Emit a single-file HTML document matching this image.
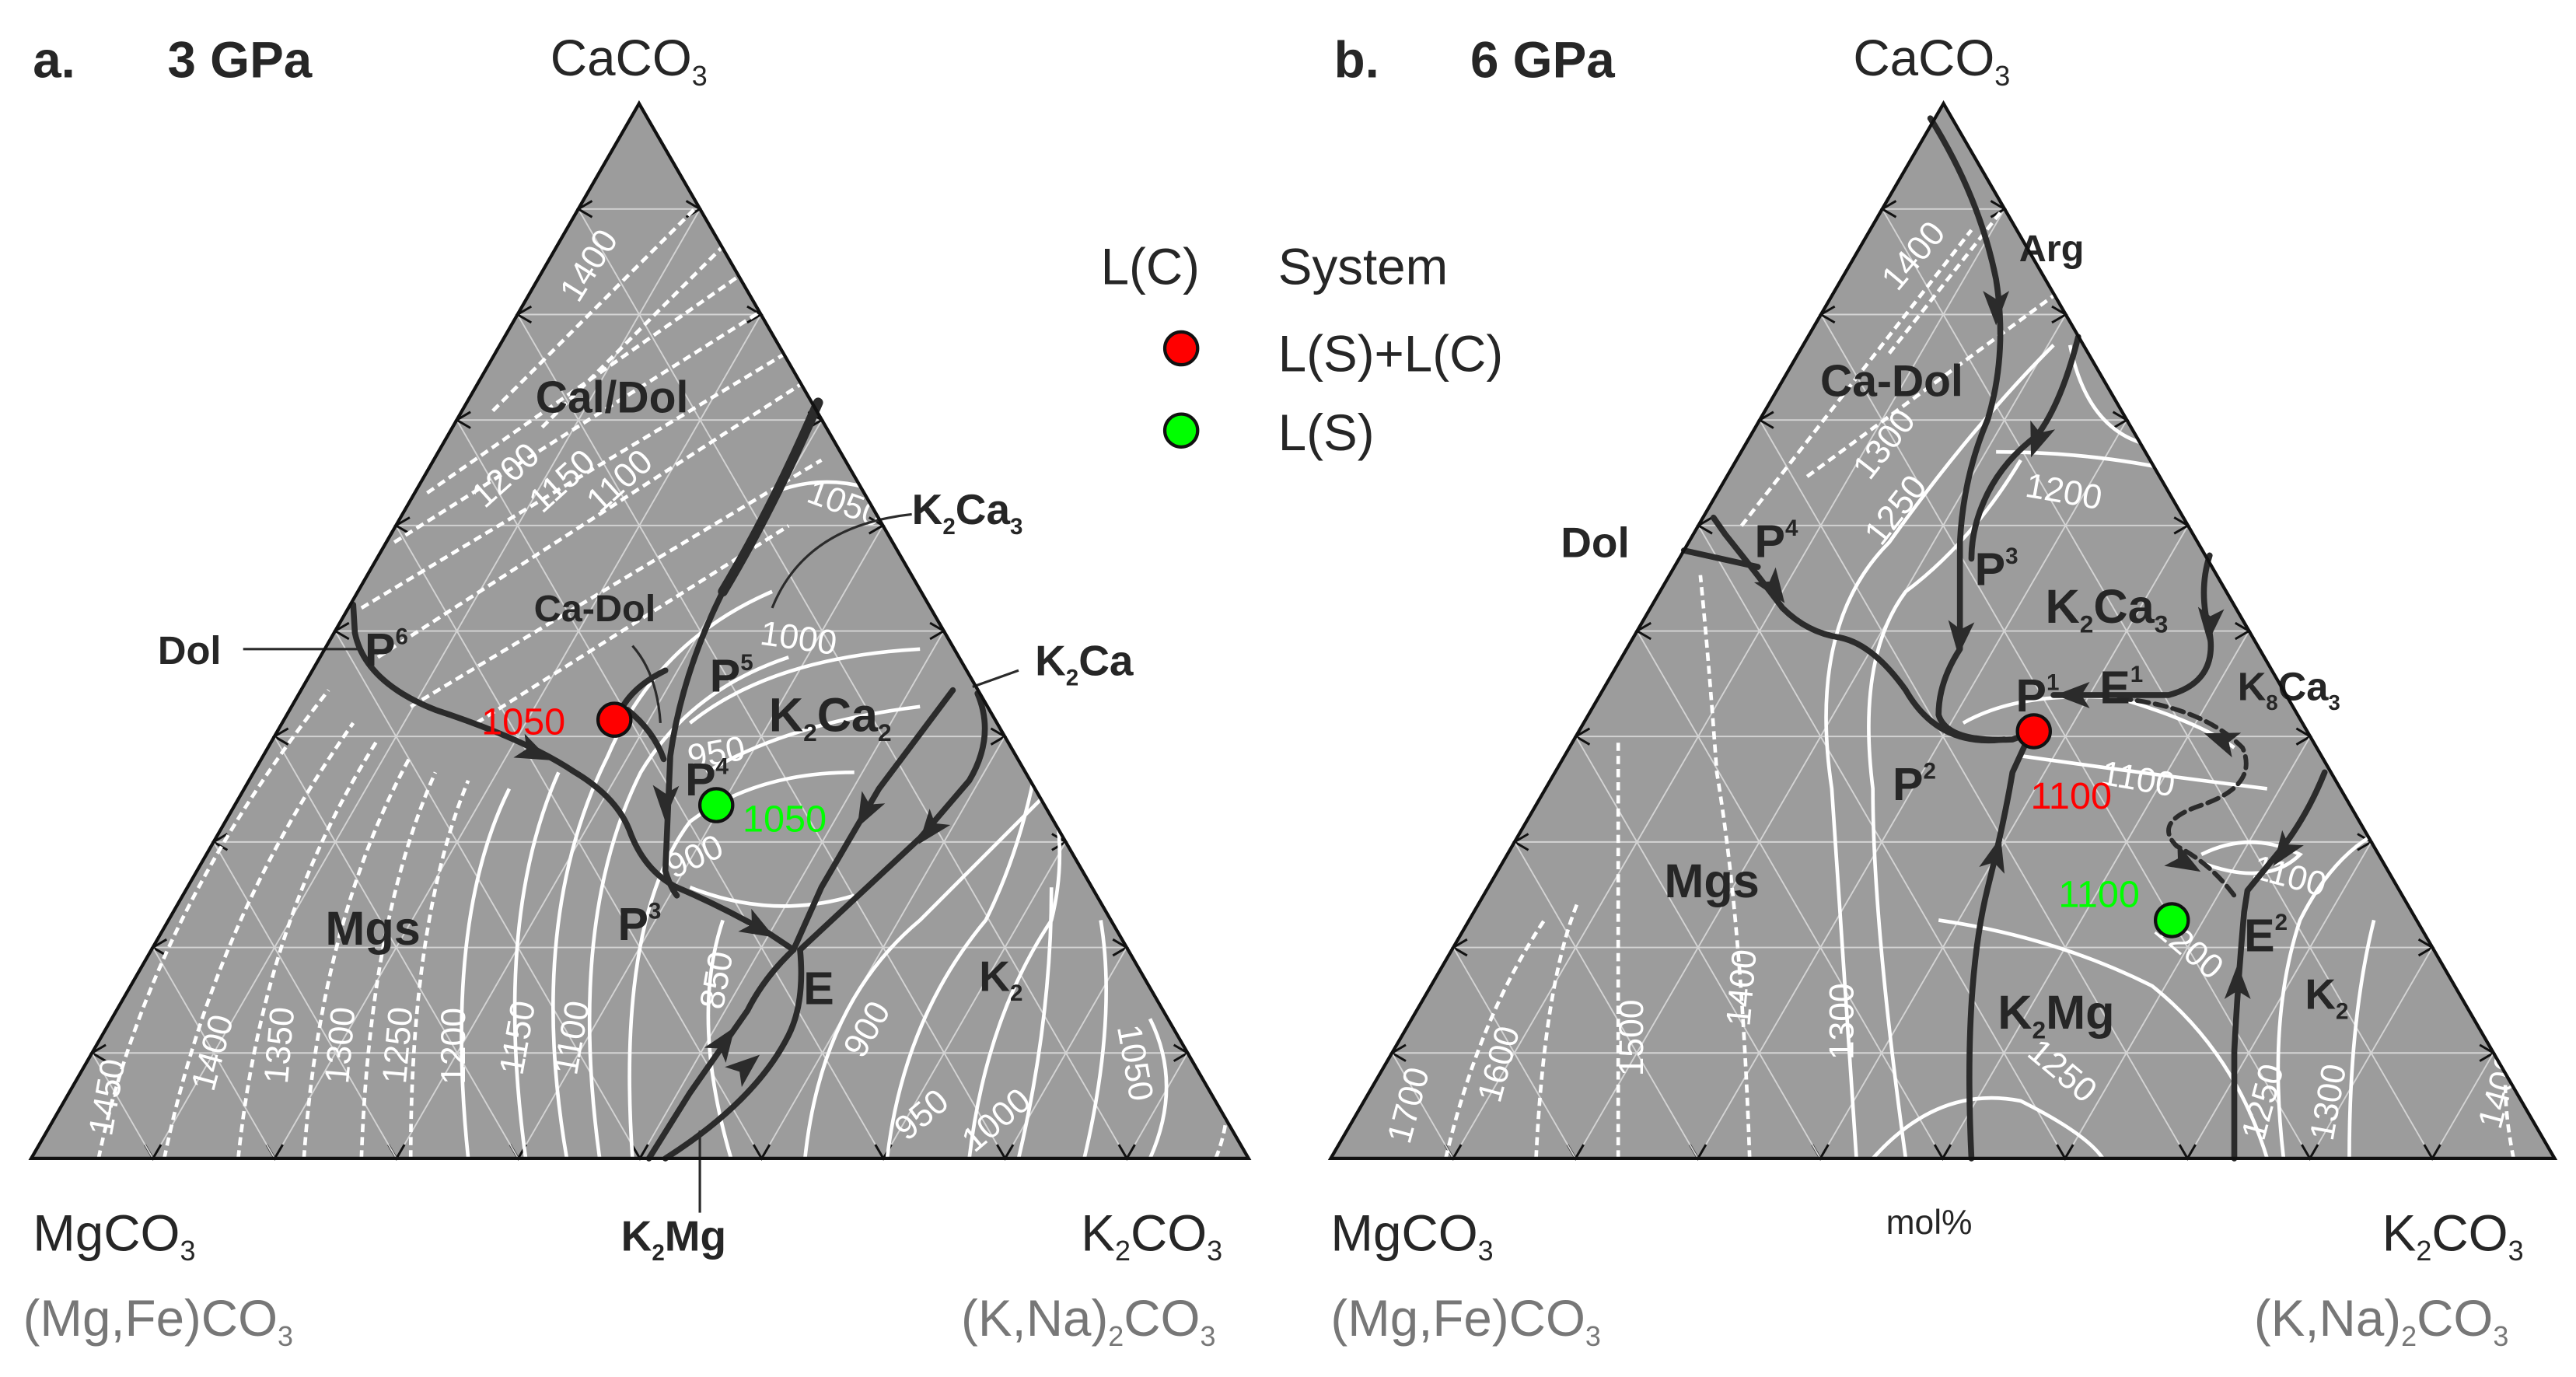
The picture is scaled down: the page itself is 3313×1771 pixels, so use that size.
<!DOCTYPE html>
<html><head><meta charset="utf-8">
<style>
html,body{margin:0;padding:0;background:#fff;}
svg{display:block;}
text{font-family:"Liberation Sans",Arial,sans-serif;}
.lb{font-weight:bold;fill:#262626;}
.wt{fill:#fff;font-size:21px;}
.dk{fill:none;stroke:#2b2b2b;stroke-width:3.6;stroke-linejoin:round;stroke-linecap:round;}
.th{fill:none;stroke:#2b2b2b;stroke-width:1.5;}
.wc{fill:none;stroke:#fff;stroke-width:2.2;}
.wd{fill:none;stroke:#fff;stroke-width:2.2;stroke-dasharray:5,3;}
</style></head><body>
<svg id="s" width="3313" height="1771" viewBox="0 0 1568 838" preserveAspectRatio="none" xmlns="http://www.w3.org/2000/svg">
<defs>
<clipPath id="ca"><polygon points="389,63 19,705 760,705"/></clipPath>
<clipPath id="cb"><polygon points="1183,63 810,705 1555,705"/></clipPath>
<path id="ah" d="M11,0 L-10,-8 L-5,0 L-10,8 Z" fill="#2b2b2b"/>
</defs>

<polygon points="389,63 19,705 760,705" fill="#9c9c9c"/>
<polygon points="1183,63 810,705 1555,705" fill="#9c9c9c"/>
<g id="grid"></g>

<!-- panel a white contours -->
<g clip-path="url(#ca)">
<path class="wd" d="M300,250 L470,80"/><path class="wd" d="M330,260 L480,110"/>
<path class="wd" d="M260,300 L490,140"/><path class="wd" d="M240,330 L510,160"/>
<path class="wd" d="M220,370 L520,190"/><path class="wd" d="M230,400 L540,200"/>
<path class="wd" d="M250,430 L500,280"/><path class="wd" d="M290,440 L480,320"/>
<path class="wd" d="M60,705 Q90,560 200,420"/><path class="wd" d="M100,705 Q130,560 215,440"/>
<path class="wd" d="M145,705 Q160,560 230,450"/><path class="wd" d="M185,705 Q195,560 250,460"/>
<path class="wd" d="M220,705 Q225,560 265,470"/><path class="wd" d="M250,705 Q250,560 285,475"/>
<path class="wc" d="M285,705 Q270,560 310,480"/><path class="wc" d="M320,705 Q300,560 340,470"/>
<path class="wc" d="M345,705 Q320,560 370,460 Q400,390 470,360"/>
<path class="wc" d="M365,705 Q345,560 390,470 Q420,420 480,400"/>
<path class="wc" d="M385,705 Q375,560 420,500 Q460,470 520,470"/>
<path class="wc" d="M445,705 Q420,620 440,560"/>
<path class="wc" d="M420,540 Q470,560 520,545"/>
<path class="wc" d="M430,470 Q480,440 560,430"/>
<path class="wc" d="M420,440 Q470,400 560,395"/>
<path class="wc" d="M520,290 Q540,240 560,255"/>
<path class="wc" d="M470,300 Q520,280 570,320"/>
<path class="wc" d="M490,705 Q500,610 560,560 Q600,520 640,480"/>
<path class="wc" d="M540,705 Q550,620 600,560 Q620,520 630,470"/>
<path class="wc" d="M590,705 Q600,620 640,560 Q650,520 640,480"/>
<path class="wc" d="M620,705 Q640,620 640,540"/>
<path class="wc" d="M660,705 Q680,620 670,560"/>
<path class="wc" d="M700,705 Q720,660 700,620"/>
<path class="wd" d="M740,705 Q750,680 745,660"/>
</g>
<g class="wt">
<text transform="translate(352,185) rotate(-58)">1400</text>
<text transform="translate(295,310) rotate(-42)">1200</text>
<text transform="translate(330,313) rotate(-42)">1150</text>
<text transform="translate(365,313) rotate(-42)">1100</text>
<text transform="translate(490,305) rotate(20)">1050</text>
<text transform="translate(462,392) rotate(8)">1000</text>
<text transform="translate(420,468) rotate(-10)">950</text>
<text transform="translate(410,535) rotate(-25)">900</text>
<text transform="translate(440,615) rotate(-80)">850</text>
<text transform="translate(68,692) rotate(-80)">1450</text>
<text transform="translate(130,665) rotate(-75)">1400</text>
<text transform="translate(175,660) rotate(-85)">1350</text>
<text transform="translate(212,660) rotate(-85)">1300</text>
<text transform="translate(247,660) rotate(-85)">1250</text>
<text transform="translate(283,660) rotate(-90)">1200</text>
<text transform="translate(318,655) rotate(-80)">1150</text>
<text transform="translate(351,655) rotate(-80)">1100</text>
<text transform="translate(525,645) rotate(-60)">900</text>
<text transform="translate(552,695) rotate(-40)">950</text>
<text transform="translate(593,702) rotate(-40)">1000</text>
<text transform="translate(680,625) rotate(80)">1050</text>
<text transform="translate(733,625) rotate(80)">1100</text>
</g>

<!-- panel a dark lines -->
<g>
<path class="dk" d="M215,368 L216,385 Q222,415 265,432 Q320,450 350,470 Q375,485 383,505 Q392,530 412,540 Q440,552 468,568 L483,578"/>
<path class="dk" style="stroke-width:6" d="M498,245 Q470,310 440,360"/>
<path class="dk" d="M440,360 Q415,410 408,460 L405,530 Q408,540 412,545"/>
<path class="dk" d="M378,432 Q385,418 405,408"/>
<path class="dk" d="M382,432 Q398,445 404,462"/>
<path class="th" d="M385,393 Q400,410 402,440"/>
<path class="dk" d="M580,420 L535,480 L500,540 L483,578 Q465,595 455,615 L420,665 L395,705"/>
<path class="dk" d="M595,422 Q606,448 590,475 L560,510 L487,578"/>
<path class="dk" d="M487,578 Q490,610 480,630 Q460,670 405,705"/>
<path class="th" d="M555,313 Q490,320 470,370"/>
<path class="th" d="M620,408 L592,418"/>
<path class="th" d="M148,395 L218,395"/>
<path class="th" d="M426,688 L426,738"/>
<use href="#ah" transform="translate(325,458) rotate(25)"/>
<use href="#ah" transform="translate(405,488) rotate(92)"/>
<use href="#ah" transform="translate(462,565) rotate(30)"/>
<use href="#ah" transform="translate(527,494) rotate(118)"/>
<use href="#ah" transform="translate(566,505) rotate(128)"/>
<use href="#ah" transform="translate(441,634) rotate(-55)"/>
<use href="#ah" transform="translate(454,649) rotate(-40)"/>
</g>
<circle cx="374" cy="438" r="10" fill="#f00" stroke="#111" stroke-width="2"/>
<circle cx="436" cy="490" r="10" fill="#0f0" stroke="#111" stroke-width="2"/>
<g class="lb">
<text x="20" y="47" font-size="31">a.</text><text x="102" y="47" font-size="31">3 GPa</text>
<text x="326" y="251" font-size="27">Cal/Dol</text>
<text x="325" y="378" font-size="23">Ca-Dol</text>
<text x="96" y="404" font-size="24">Dol</text>
<text x="222" y="405" font-size="28">P<tspan font-size="14" dy="-13">6</tspan></text>
<text x="432" y="421" font-size="28">P<tspan font-size="14" dy="-13">5</tspan></text>
<text x="417" y="484" font-size="28">P<tspan font-size="14" dy="-13">4</tspan></text>
<text x="376" y="572" font-size="28">P<tspan font-size="14" dy="-13">3</tspan></text>
<text x="489" y="611" font-size="28">E</text>
<text x="198" y="575" font-size="29">Mgs</text>
<text x="468" y="445" font-size="29">K<tspan font-size="15" dy="6">2</tspan><tspan dy="-6">Ca</tspan><tspan font-size="15" dy="6">2</tspan></text>
<text x="555" y="319" font-size="26">K<tspan font-size="14" dy="6">2</tspan><tspan dy="-6">Ca</tspan><tspan font-size="14" dy="6">3</tspan></text>
<text x="630" y="411" font-size="26">K<tspan font-size="14" dy="6">2</tspan><tspan dy="-6">Ca</tspan></text>
<text x="596" y="603" font-size="26">K<tspan font-size="14" dy="6">2</tspan></text>
<text x="378" y="761" font-size="26">K<tspan font-size="14" dy="6">2</tspan><tspan dy="-6">Mg</tspan></text>
</g>
<text x="293" y="447" font-size="23" fill="#f00">1050</text>
<text x="452" y="506" font-size="23" fill="#0f0">1050</text>

<!-- legend -->
<g font-size="31" fill="#262626">
<text x="670" y="173">L(C)</text><text x="778" y="173">System</text>
<text x="778" y="226">L(S)+L(C)</text><text x="778" y="274">L(S)</text>
</g>
<circle cx="719" cy="212" r="10" fill="#f00" stroke="#111" stroke-width="2"/>
<circle cx="719" cy="262" r="10" fill="#0f0" stroke="#111" stroke-width="2"/>

<!-- panel b white contours -->
<g clip-path="url(#cb)">
<path class="wd" d="M1060,320 L1200,140"/><path class="wd" d="M1150,215 L1225,120"/>
<path class="wd" d="M1100,290 L1250,180"/>
<path class="wd" d="M880,705 Q900,620 940,560"/><path class="wd" d="M935,705 Q940,600 960,550"/>
<path class="wd" d="M985,705 L985,450"/><path class="wd" d="M1065,705 Q1060,560 1045,470 Q1040,400 1035,350"/>
<path class="wc" d="M1130,705 Q1120,560 1115,480 Q1100,380 1150,330 Q1200,260 1250,210"/>
<path class="wc" d="M1160,705 Q1140,560 1140,480 Q1130,400 1160,360 Q1200,330 1230,280"/>
<path class="wc" d="M1180,560 Q1250,570 1310,600 Q1360,640 1380,705"/>
<path class="wc" d="M1140,705 Q1180,660 1230,670 Q1270,690 1280,705"/>
<path class="wc" d="M1215,275 Q1280,275 1340,290"/>
<path class="wc" d="M1260,210 Q1270,260 1305,270"/>
<path class="wc" d="M1195,440 Q1230,420 1290,425 Q1340,440 1360,455"/>
<path class="wc" d="M1230,460 Q1300,470 1380,480"/>
<path class="wc" d="M1340,520 Q1370,505 1400,520 Q1380,540 1340,525"/>
<path class="wc" d="M1390,705 Q1380,620 1400,560 Q1420,520 1450,505"/>
<path class="wc" d="M1430,705 Q1430,620 1445,560"/>
<path class="wd" d="M1530,705 Q1525,680 1525,660"/>
</g>
<g class="wt">
<text transform="translate(1155,178) rotate(-50)">1400</text>
<text transform="translate(1138,293) rotate(-52)">1300</text>
<text transform="translate(1145,333) rotate(-52)">1250</text>
<text transform="translate(1232,302) rotate(10)">1200</text>
<text transform="translate(1278,477) rotate(10)">1100</text>
<text transform="translate(1370,534) rotate(15)">1100</text>
<text transform="translate(1310,567) rotate(40)">1200</text>
<text transform="translate(1233,642) rotate(40)">1250</text>
<text transform="translate(858,697) rotate(-75)">1700</text>
<text transform="translate(913,672) rotate(-75)">1600</text>
<text transform="translate(1000,655) rotate(-90)">1500</text>
<text transform="translate(1065,625) rotate(-85)">1400</text>
<text transform="translate(1128,645) rotate(-90)">1300</text>
<text transform="translate(1378,695) rotate(-75)">1250</text>
<text transform="translate(1420,695) rotate(-80)">1300</text>
<text transform="translate(1522,688) rotate(-75)">1400</text>
</g>
<!-- panel b dark lines -->
<g>
<path class="dk" d="M1175,72 Q1205,120 1215,170 Q1222,215 1210,255 Q1195,290 1193,330 L1193,395 Q1180,415 1180,435 Q1185,452 1225,450 L1236,446"/>
<path class="dk" d="M1265,205 Q1255,245 1240,265 Q1220,280 1210,300 Q1200,320 1200,340"/>
<path class="dk" d="M1043,315 L1050,325 Q1070,350 1085,370 Q1100,385 1120,388 Q1140,392 1160,420 Q1180,455 1220,450"/>
<path class="dk" d="M1025,335 L1070,345"/>
<path class="dk" d="M1200,705 Q1195,600 1210,540 Q1220,500 1225,470 L1236,446"/>
<path class="dk" d="M1345,338 Q1338,360 1345,385 Q1350,415 1320,423 L1250,423"/>
<path class="dk" style="stroke-dasharray:7,4;stroke-width:2.8" d="M1290,425 Q1340,430 1365,455 Q1375,478 1340,490 Q1310,500 1325,515 Q1345,525 1360,545"/>
<path class="dk" d="M1415,470 Q1405,495 1390,515 L1368,542 L1366,555 Q1362,600 1360,640 L1360,705"/>
<use href="#ah" transform="translate(1215,187) rotate(90)"/>
<use href="#ah" transform="translate(1193,388) rotate(95)"/>
<use href="#ah" transform="translate(1240,268) rotate(110)"/>
<use href="#ah" transform="translate(1080,358) rotate(55)"/>
<use href="#ah" transform="translate(1215,520) rotate(-75)"/>
<use href="#ah" transform="translate(1345,380) rotate(95)"/>
<use href="#ah" transform="translate(1262,423) rotate(180)"/>
<use href="#ah" transform="translate(1352,450) rotate(200)"/>
<use href="#ah" transform="translate(1330,525) rotate(30)"/>
<use href="#ah" transform="translate(1390,518) rotate(125)"/>
<use href="#ah" transform="translate(1362,598) rotate(-90)"/>
</g>
<circle cx="1238" cy="445" r="10" fill="#f00" stroke="#111" stroke-width="2"/>
<circle cx="1322" cy="560" r="10" fill="#0f0" stroke="#111" stroke-width="2"/>
<g class="lb">
<text x="812" y="47" font-size="31">b.</text><text x="895" y="47" font-size="31">6 GPa</text>
<text x="1108" y="241" font-size="27">Ca-Dol</text>
<text x="1229" y="159" font-size="23">Arg</text>
<text x="950" y="339" font-size="26">Dol</text>
<text x="1068" y="339" font-size="28">P<tspan font-size="14" dy="-13">4</tspan></text>
<text x="1202" y="356" font-size="28">P<tspan font-size="14" dy="-13">3</tspan></text>
<text x="1227" y="433" font-size="28">P<tspan font-size="14" dy="-13">1</tspan></text>
<text x="1278" y="428" font-size="28">E<tspan font-size="14" dy="-13">1</tspan></text>
<text x="1152" y="487" font-size="28">P<tspan font-size="14" dy="-13">2</tspan></text>
<text x="1366" y="579" font-size="28">E<tspan font-size="14" dy="-13">2</tspan></text>
<text x="1013" y="546" font-size="29">Mgs</text>
<text x="1245" y="379" font-size="29">K<tspan font-size="15" dy="6">2</tspan><tspan dy="-6">Ca</tspan><tspan font-size="15" dy="6">3</tspan></text>
<text x="1362" y="426" font-size="24">K<tspan font-size="13" dy="6">8</tspan><tspan dy="-6">Ca</tspan><tspan font-size="13" dy="6">3</tspan></text>
<text x="1216" y="626" font-size="29">K<tspan font-size="15" dy="6">2</tspan><tspan dy="-6">Mg</tspan></text>
<text x="1403" y="614" font-size="26">K<tspan font-size="14" dy="6">2</tspan></text>
</g>
<text x="1236" y="492" font-size="23" fill="#f00">1100</text>
<text x="1253" y="552" font-size="23" fill="#0f0">1100</text>

<!-- panel edges -->
<polygon points="389,63 19,705 760,705" fill="none" stroke="#111" stroke-width="2"/>
<polygon points="1183,63 810,705 1555,705" fill="none" stroke="#111" stroke-width="2"/>

<!-- corner labels -->
<g font-size="31" fill="#262626">
<text x="335" y="46">CaCO<tspan font-size="17" dy="6">3</tspan></text>
<text x="1128" y="46">CaCO<tspan font-size="17" dy="6">3</tspan></text>
<text x="20" y="761">MgCO<tspan font-size="17" dy="6">3</tspan></text>
<text x="658" y="761">K<tspan font-size="17" dy="6">2</tspan><tspan dy="-6">CO</tspan><tspan font-size="17" dy="6">3</tspan></text>
<text x="810" y="761">MgCO<tspan font-size="17" dy="6">3</tspan></text>
<text x="1450" y="761">K<tspan font-size="17" dy="6">2</tspan><tspan dy="-6">CO</tspan><tspan font-size="17" dy="6">3</tspan></text>
</g>
<g font-size="31" fill="#777">
<text x="14" y="813">(Mg,Fe)CO<tspan font-size="17" dy="6">3</tspan></text>
<text x="585" y="813">(K,Na)<tspan font-size="17" dy="6">2</tspan><tspan dy="-6">CO</tspan><tspan font-size="17" dy="6">3</tspan></text>
<text x="810" y="813">(Mg,Fe)CO<tspan font-size="17" dy="6">3</tspan></text>
<text x="1372" y="813">(K,Na)<tspan font-size="17" dy="6">2</tspan><tspan dy="-6">CO</tspan><tspan font-size="17" dy="6">3</tspan></text>
</g>
<text x="1148" y="751" font-size="21" fill="#262626">mol%</text>
</svg>
<script>
(function(){
var g=document.getElementById('grid'),h='';
function tri(A,L,R){
 for(var i=1;i<10;i++){var t=i/10;
  var p1=[L[0]+t*(A[0]-L[0]),L[1]+t*(A[1]-L[1])],p2=[R[0]+t*(A[0]-R[0]),R[1]+t*(A[1]-R[1])];
  var b=[L[0]+t*(R[0]-L[0]),L[1]];
  var rr=[R[0]+(1-t)*(A[0]-R[0]),R[1]+(1-t)*(A[1]-R[1])];
  var ll=[L[0]+(1-t)*(A[0]-L[0]),L[1]+(1-t)*(A[1]-L[1])];
  h+='<line x1="'+p1[0]+'" y1="'+p1[1]+'" x2="'+p2[0]+'" y2="'+p2[1]+'" stroke="#d4d4d4" stroke-width="0.9"/>';
  h+='<line x1="'+b[0]+'" y1="'+b[1]+'" x2="'+rr[0]+'" y2="'+rr[1]+'" stroke="#d4d4d4" stroke-width="0.9"/>';
  var b2=[L[0]+(1-t)*(R[0]-L[0]),L[1]];
  h+='<line x1="'+b2[0]+'" y1="'+b2[1]+'" x2="'+ll[0]+'" y2="'+ll[1]+'" stroke="#d4d4d4" stroke-width="0.9"/>';
  var s=7;
  h+='<path d="M'+(p1[0]+s*1.2)+','+(p1[1]-s*0.7)+' L'+p1[0]+','+p1[1]+' L'+(p1[0]+s*1.2)+','+(p1[1]+s*0.7)+'" fill="none" stroke="#111" stroke-width="1.4"/>';
  h+='<path d="M'+(p2[0]-s*1.2)+','+(p2[1]-s*0.7)+' L'+p2[0]+','+p2[1]+' L'+(p2[0]-s*1.2)+','+(p2[1]+s*0.7)+'" fill="none" stroke="#111" stroke-width="1.4"/>';
  h+='<path d="M'+(b[0]-s*0.7)+','+(b[1]-s*1.2)+' L'+b[0]+','+b[1]+' L'+(b[0]+s*0.7)+','+(b[1]-s*1.2)+'" fill="none" stroke="#111" stroke-width="1.4"/>';
 }
}
tri([389,63],[19,705],[760,705]);
tri([1183,63],[810,705],[1555,705]);
g.innerHTML=h;
})();
</script>
</body></html>
